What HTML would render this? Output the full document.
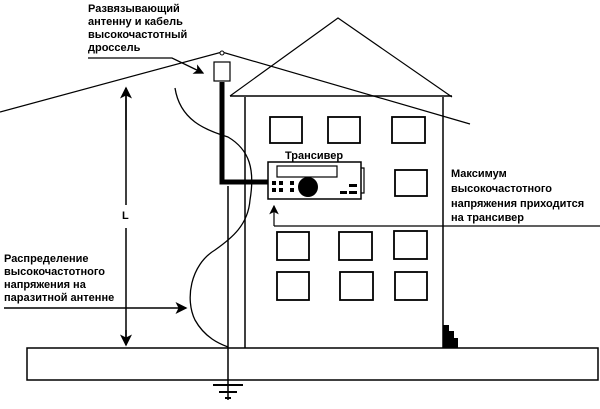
<!DOCTYPE html><html><head><style>body{margin:0;background:#fff}svg{display:block}text{font-family:"Liberation Sans",sans-serif;font-weight:bold;font-size:11px;fill:#000}</style></head><body>
<svg width="600" height="409" viewBox="0 0 600 409">
<defs><marker id="a" markerWidth="8" markerHeight="8" refX="7" refY="4" orient="auto"><path d="M0,0L8,4L0,8L2,4z" fill="#000"/></marker></defs>
<g stroke="#000" fill="none">
<path d="M230,96L338,18L452,97" stroke-width="1.2"/>
<rect x="27" y="348" width="571" height="32" stroke-width="1.5"/>
<path d="M245,97V348M443,97V348M230,96H452" stroke-width="1.5"/>
<path d="M0,112L222,52L470,124" stroke-width="1.2"/>
<circle cx="222" cy="53" r="2" fill="#fff"/>
<path d="M222,82V182H268" stroke-width="5"/>
<rect x="214" y="62" width="16" height="19" fill="#fff" stroke-width="1.2"/>
<path d="M228,186V400" stroke-width="1.5"/>
<path d="M213,385H243M219,392H237M225,398H231" stroke-width="2"/>
<g stroke-width="1.8"><rect x="270" y="117" width="32" height="26"/><rect x="328" y="117" width="32" height="26"/><rect x="392" y="117" width="33" height="26"/><rect x="395" y="170" width="32" height="26"/>
<rect x="277" y="232" width="32" height="28"/><rect x="339" y="232" width="33" height="28"/><rect x="394" y="231" width="33" height="28"/>
<rect x="277" y="272" width="32" height="28"/><rect x="340" y="272" width="33" height="28"/><rect x="395" y="272" width="32" height="28"/></g>
<rect x="268" y="162" width="93" height="37" fill="#fff" stroke-width="1.5"/>
<rect x="277" y="166" width="60" height="11" stroke-width="1.2"/>
<path d="M361,168H364V193H361" stroke-width="1.2"/>
<path d="M274,226H600M274,226V206" stroke-width="1.2" marker-end="url(#a)"/>
<path d="M175,88C180,120 205,130 228,137C250,150 255,170 250,200C248,225 232,238 215,250C190,265 185,300 195,320C205,338 220,344 228,347" stroke-width="1.3"/>
<path d="M4,308H186" stroke-width="1.5" marker-end="url(#a)"/>
<path d="M88,58H172L203,73" stroke-width="1.3" marker-end="url(#a)"/>
<path d="M126,130V88" stroke-width="1.5" marker-end="url(#a)"/>
<path d="M126,88V205M126,228V344" stroke-width="1.5"/>
<path d="M126,330V345" stroke-width="1.5" marker-end="url(#a)"/>
</g>
<circle cx="308" cy="187" r="10"/>
<g fill="#000"><rect x="272" y="181" width="4" height="4"/><rect x="279" y="181" width="4" height="4"/><rect x="290" y="181" width="4" height="4"/><rect x="272" y="188" width="4" height="4"/><rect x="279" y="188" width="4" height="4"/><rect x="290" y="188" width="4" height="4"/>
<rect x="349" y="184" width="8" height="3"/><rect x="340" y="191" width="7" height="3"/><rect x="349" y="191" width="8" height="3"/>
<path d="M443,325H449V331H454V338H458V348H443z"/></g>
<text x="88" y="12">Развязывающий</text><text x="88" y="25">антенну и кабель</text><text x="88" y="38">высокочастотный</text><text x="88" y="51">дроссель</text>
<text x="285" y="159">Трансивер</text>
<text x="451" y="177">Максимум</text><text x="451" y="192">высокочастотного</text><text x="451" y="207">напряжения приходится</text><text x="451" y="221">на трансивер</text>
<text x="4" y="262">Распределение</text><text x="4" y="275">высокочастотного</text><text x="4" y="288">напряжения на</text><text x="4" y="301">паразитной антенне</text>
<text x="122" y="219">L</text>
</svg></body></html>
